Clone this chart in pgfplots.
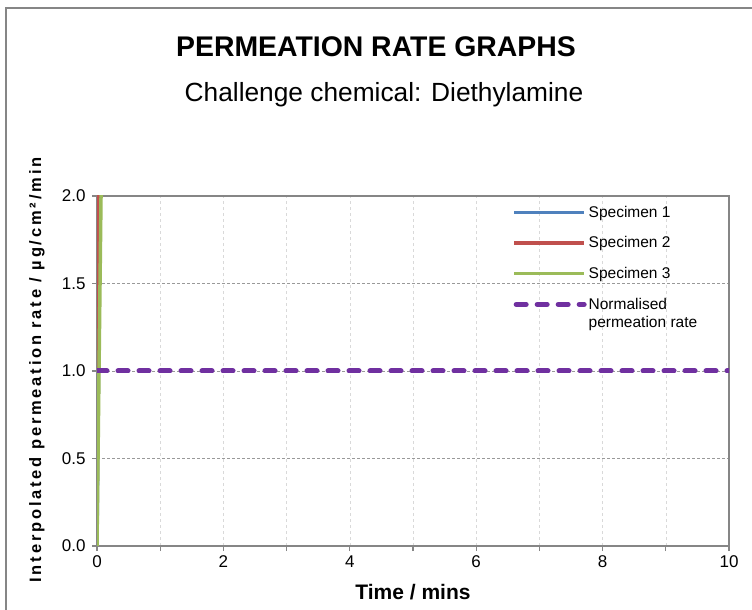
\documentclass[border=0pt]{standalone}
\usepackage{pgfplots}
\pgfplotsset{compat=1.18}
\usepackage{fontspec}
\setmainfont{Liberation Sans}
\newfontfamily\ylabfont[LetterSpace=17]{Liberation Sans}

\definecolor{spec1}{HTML}{4F81BD}
\definecolor{spec2}{HTML}{C0504D}
\definecolor{spec3}{HTML}{9BBB59}
\definecolor{normc}{HTML}{7030A0}
\definecolor{axgray}{HTML}{868686}

\begin{document}
\begin{tikzpicture}[x=1pt,y=1pt]
\useasboundingbox (0,0) rectangle (752,610);
% outer frame (left and top visible)
\draw[axgray, line width=2pt] (6,0) -- (6,602) -- (752,602);

% titles
\node[font=\fontsize{28.4}{32}\selectfont\bfseries] at (376,563) {PERMEATION RATE GRAPHS};
\node[font=\fontsize{26.3}{30}\selectfont] at (384,515) {Challenge chemical: Diethylamine};

% axis labels
\node[font=\fontsize{21}{24}\selectfont\bfseries] at (413,18) {Time / mins};
\node[rotate=90, font=\fontsize{16.5}{19}\selectfont\bfseries\ylabfont] at (37,240)
  {Interpolated permeation rate / µg/cm²/min};

\begin{axis}[
    at={(97pt,64pt)}, anchor=south west,
    scale only axis,
    width=632pt, height=350pt,
    xmin=0, xmax=10, ymin=0, ymax=2,
    xtick={0,2,...,10},
    minor xtick={1,3,5,7,9},
    ytick={0,0.5,...,2},
    yticklabel style={/pgf/number format/fixed, /pgf/number format/fixed zerofill,
        /pgf/number format/precision=1, xshift=-3pt},
    tick label style={font=\fontsize{17}{20}\selectfont},
    /pgf/number format/assume math mode=true,
    axis line style={axgray, line width=1.5pt},
    tick align=outside,
    major tick length=5pt, minor tick length=5pt,
    every tick/.style={axgray, line width=1.2pt},
    xtick pos=bottom, ytick pos=left,
    xmajorgrids, xminorgrids, ymajorgrids,
    major x grid style={gray!30, dashed, line width=0.6pt},
    minor x grid style={gray!30, dashed, line width=0.6pt},
    major y grid style={gray!80, densely dashed, line width=0.6pt},
    xticklabel style={yshift=-1pt},
    legend style={at={(0.657,0.978)}, anchor=north west, draw=none, fill=none,
        font=\fontsize{15.5}{18}\selectfont, cells={anchor=west, align=left},
        row sep=14pt, inner sep=0pt},
    legend cell align=left,
]
\addplot[spec1, line width=3.5pt, legend image code/.code={\draw[spec1, line width=3.5pt] (0pt,0pt) -- (70pt,0pt);}]
  coordinates {(0,0) (0.05,2.2)};
\addlegendentry{Specimen 1}
\addplot[spec2, line width=3.5pt, legend image code/.code={\draw[spec2, line width=3.5pt] (0pt,0pt) -- (70pt,0pt);}]
  coordinates {(0,0) (0.02,2.2)};
\addlegendentry{Specimen 2}
\addplot[spec3, line width=3.5pt, legend image code/.code={\draw[spec3, line width=3.5pt] (0pt,0pt) -- (70pt,0pt);}]
  coordinates {(0,0) (0.07,2.2)};
\addlegendentry{Specimen 3}
\addplot[normc, line width=5pt, line cap=round, dash pattern=on 10pt off 11pt,
  legend image code/.code={\draw[normc, line width=5pt, line cap=round, dash pattern=on 10pt off 11pt] (2pt,9pt) -- (70pt,9pt);}]
  coordinates {(0,1) (10,1)};
\addlegendentry{Normalised\\permeation rate}
\end{axis}
\end{tikzpicture}
\end{document}
